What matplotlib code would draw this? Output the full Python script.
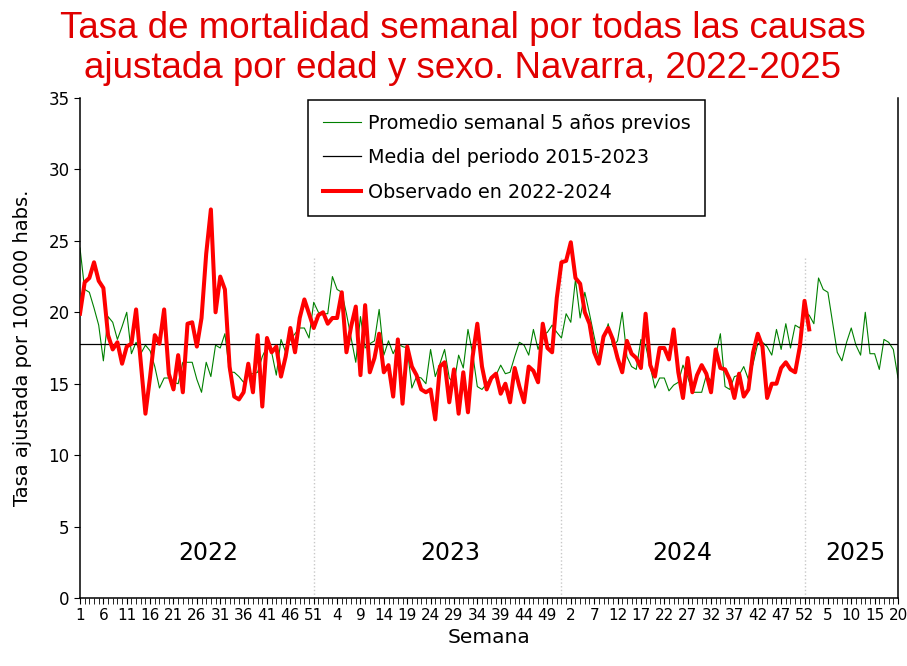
# Tasa de mortalidad semanal - Navarra 2022-2025
import numpy as np
import matplotlib.pyplot as plt

# =========================
# DATOS
# =========================

# semanas: 2022 (52), 2023 (52), 2024 (52), 2025 (hasta la 20)
semanas = list(range(1, 53)) + list(range(1, 53)) + list(range(1, 53)) + list(range(1, 21))

# promedio semanal de los 5 años previos (verde)
promedio_5 = [
    24.5, 21.6, 21.4, 20.3, 19.1, 16.6, 19.7, 19.3, 18.1, 19.0,
    20.0, 17.1, 17.9, 17.1, 17.7, 17.3, 16.2, 14.7, 15.4, 15.4,
    15.1, 15.0, 16.5, 16.5, 16.5, 15.3, 14.4, 16.5, 15.5, 17.7,
    17.5, 18.5, 15.8, 15.8, 15.5, 15.1, 15.7, 15.7, 15.8, 16.9,
    17.6, 17.2, 15.6, 18.1, 17.2, 18.1, 18.5, 18.9, 18.9, 18.2,
    20.7, 20.0, 19.9, 19.9, 22.5, 21.6, 21.4, 19.9, 18.2, 16.5,
    19.7, 17.5, 17.8, 18.0, 20.2, 17.0, 18.0, 17.1, 17.8, 17.6,
    17.5, 14.7, 15.5, 15.4, 15.0, 17.4, 15.5, 16.4, 17.4, 15.4,
    15.0, 17.0, 16.1, 18.8, 17.1, 14.8, 14.6, 15.0, 15.5, 15.6,
    16.3, 15.7, 15.8, 16.9, 17.9, 17.7, 17.0, 18.8, 17.4, 18.4,
    18.6, 19.1, 18.6, 18.2, 19.9, 19.3, 22.3, 19.6, 21.4, 19.9,
    18.3, 16.8, 18.0, 19.2, 17.6, 18.0, 20.0, 16.9, 16.2, 16.0,
    18.1, 17.7, 16.2, 14.7, 15.4, 15.4, 14.5, 14.9, 15.1, 16.3,
    15.5, 14.4, 14.4, 14.4, 15.6, 15.2, 17.0, 18.5, 14.8, 14.6,
    15.5, 15.6, 16.2, 15.3, 16.4, 17.8, 17.9, 17.6, 17.0, 18.8,
    17.4, 19.2, 17.5, 19.1, 18.9, 20.0, 19.8, 19.2, 22.4, 21.6,
    21.4, 19.3, 17.2, 16.6, 17.9, 18.9, 17.7, 17.0, 20.0, 17.1,
    17.1, 16.0, 18.1, 17.9, 17.4, 15.4,
]

# observado 2022-2024 (rojo), llega hasta la semana 1 de 2025
observado = [
    19.9, 22.1, 22.4, 23.5, 22.2, 21.7, 18.4, 17.4, 17.9, 16.4,
    17.6, 17.8, 20.2, 16.5, 12.9, 15.5, 18.4, 17.8, 20.2, 15.7,
    14.6, 17.0, 14.4, 19.2, 19.3, 17.6, 19.6, 24.1, 27.2, 20.0,
    22.5, 21.6, 16.2, 14.1, 13.9, 14.4, 16.4, 14.4, 18.4, 13.4,
    18.2, 17.2, 17.6, 15.5, 16.9, 18.9, 17.2, 19.6, 20.9, 19.9,
    18.9, 19.8, 20.0, 19.2, 19.6, 19.6, 21.4, 17.2, 19.0, 20.4,
    15.6, 20.5, 15.8, 16.8, 18.5, 15.8, 16.3, 14.1, 18.1, 13.6,
    17.6, 16.2, 15.6, 14.6, 14.4, 14.6, 12.5, 16.2, 16.5, 13.7,
    16.0, 12.9, 15.8, 13.0, 16.9, 19.2, 16.2, 14.6, 15.4, 15.7,
    14.3, 15.0, 13.7, 16.1, 14.8, 13.7, 16.2, 15.9, 15.1, 19.2,
    17.5, 17.2, 21.0, 23.5, 23.6, 24.9, 22.4, 22.0, 20.0, 19.2,
    17.2, 16.4, 18.3, 18.9, 18.1, 16.8, 15.8, 18.0, 17.1, 16.8,
    16.1, 19.9, 16.3, 15.5, 17.5, 17.5, 16.7, 18.8, 15.8, 14.0,
    16.8, 14.4, 15.6, 16.3, 15.7, 14.4, 17.4, 16.1, 16.0, 15.3,
    14.0, 15.7, 14.1, 14.6, 17.2, 18.5, 17.6, 14.0, 15.0, 15.0,
    16.1, 16.5, 16.0, 15.8, 17.6, 20.8, 18.8,
]

# media del periodo 2015-2023
media_periodo = 17.75

# años y posiciones de las separaciones
anios = ["2022", "2023", "2024", "2025"]
pos_anios = [27.4, 79.2, 128.8, 165.8]
separaciones = [50, 103, 155]

x_verde = np.arange(len(promedio_5))
x_rojo = np.arange(len(observado))

# =========================
# GRAFICO
# =========================
plt.rcParams['font.family'] = 'DejaVu Sans'

fig = plt.figure(figsize=(9.07, 6.66), dpi=100)
ax = fig.add_axes([80/907, 68/666, 818/907, 500/666])

# separaciones entre años
for s in separaciones:
    ax.plot([s, s], [0, 23.8], color='#c8c8c8', lw=1, ls=':', zorder=1)

ax.plot(x_verde, promedio_5, color='#008000', lw=0.8,
        label='Promedio semanal 5 años previos', zorder=2)
ax.axhline(media_periodo, color='black', lw=0.9,
           label='Media del periodo 2015-2023', zorder=2)
ax.plot(x_rojo, observado, color='#ff0000', lw=2.9,
        label='Observado en 2022-2024', zorder=3)

# etiquetas de los años
for a, p in zip(anios, pos_anios):
    ax.text(p, 3.15, a, fontsize=17, ha='center', va='center')

# ejes
ax.set_xlim(0, len(semanas) - 1)
ax.set_ylim(0, 35)
ax.set_yticks(np.arange(0, 36, 5))
ax.set_xticks(np.arange(0, len(semanas), 5))
ax.set_xticklabels([str(semanas[i]) for i in range(0, len(semanas), 5)])
ax.set_xticks(np.arange(len(semanas)), minor=True)
ax.tick_params(axis='x', which='both', direction='out', length=4,
               labelsize=11, pad=3)
ax.tick_params(axis='y', direction='out', length=4, labelsize=12)
ax.spines['top'].set_visible(False)
for lado in ['left', 'bottom', 'right']:
    ax.spines[lado].set_linewidth(1.1)

ax.set_ylabel('Tasa ajustada por 100.000 habs.', fontsize=14, labelpad=12)
ax.set_xlabel('Semana', fontsize=14.5, labelpad=4)

leg = ax.legend(loc='upper left', bbox_to_anchor=(0.279, 0.997),
                fontsize=13.8, frameon=True, fancybox=False,
                edgecolor='black', framealpha=1, borderpad=0.75,
                labelspacing=0.8, handlelength=2.0, handletextpad=0.35,
                borderaxespad=0)
leg.get_frame().set_linewidth(1.1)

# titulo
fig.text(0.51, 0.983,
         'Tasa de mortalidad semanal por todas las causas\n'
         'ajustada por edad y sexo. Navarra, 2022-2025',
         color='#e00000', fontsize=26.5, family='Liberation Sans',
         ha='center', va='top', linespacing=1.16)

plt.savefig('out.png', dpi=100)
